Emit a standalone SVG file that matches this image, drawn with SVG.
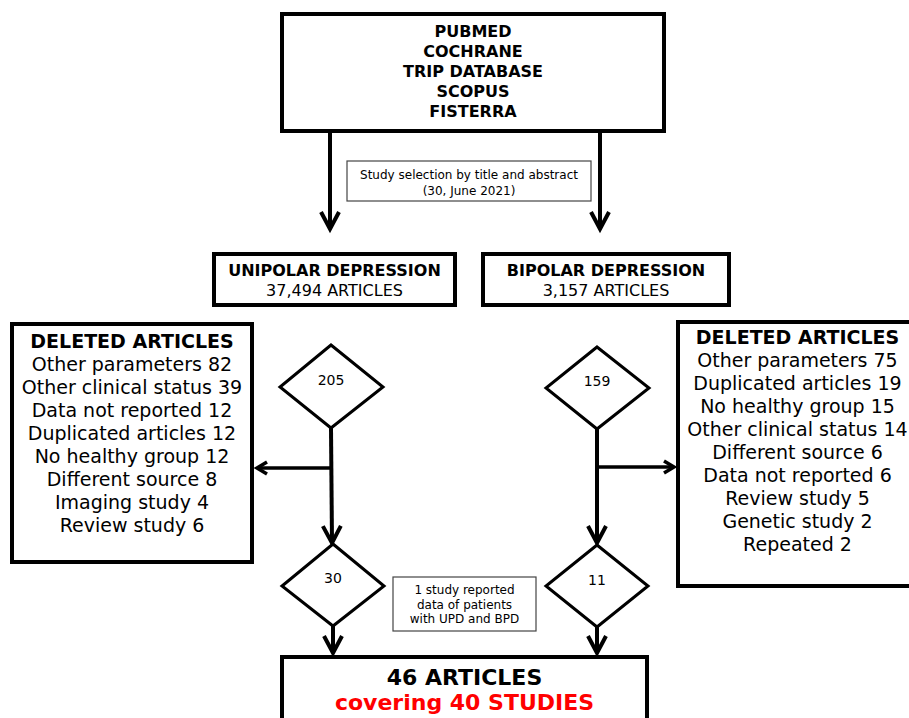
<svg xmlns="http://www.w3.org/2000/svg" width="909" height="718" viewBox="0 0 909 718">
<defs>
<style>
text{font-family:"DejaVu Sans","Verdana",sans-serif;fill:#000;text-anchor:middle}
.b{font-weight:bold}
.box{fill:#fff;stroke:#000;stroke-width:4}
.note{fill:#fff;stroke:#444;stroke-width:1.2}
.dia{fill:#fff;stroke:#000;stroke-width:3}
.con{fill:none;stroke:#000;stroke-width:4}
.conh{fill:none;stroke:#000;stroke-width:3.5}
.f16{font-size:16px}
.f19{font-size:19px}
.f12{font-size:12px}
.f14{font-size:14px}
.f22{font-size:22px}
.red{fill:#ff0000}
</style>
<marker id="big" markerUnits="userSpaceOnUse" orient="auto" refX="0" refY="0" markerWidth="40" markerHeight="40" overflow="visible">
<path d="M-17,-9 L0,0 L-17,9" fill="none" stroke="#000" stroke-width="4"/>
</marker>
<marker id="small" markerUnits="userSpaceOnUse" orient="auto" refX="0" refY="0" markerWidth="30" markerHeight="30" overflow="visible">
<path d="M-10,-6 L0,0 L-10,6" fill="none" stroke="#000" stroke-width="3.5"/>
</marker>
</defs>

<g id="connectors">
<line class="con" x1="330" y1="133" x2="330" y2="229" marker-end="url(#big)"/>
<line class="con" x1="600" y1="133" x2="600" y2="229" marker-end="url(#big)"/>
<line class="con" x1="331" y1="428" x2="332" y2="543" marker-end="url(#big)"/>
<line class="conh" x1="331" y1="468" x2="257" y2="468" marker-end="url(#small)"/>
<line class="con" x1="597" y1="429" x2="597" y2="543" marker-end="url(#big)"/>
<line class="conh" x1="597" y1="467" x2="674" y2="467" marker-end="url(#small)"/>
<line class="con" x1="333" y1="626" x2="333" y2="653" marker-end="url(#big)"/>
<line class="con" x1="597" y1="627" x2="597" y2="653" marker-end="url(#big)"/>
</g>

<g id="sources">
<rect class="box" x="282" y="14" width="382" height="117"/>
<text class="b f16" x="473" y="37">PUBMED</text>
<text class="b f16" x="473" y="57">COCHRANE</text>
<text class="b f16" x="473" y="77">TRIP DATABASE</text>
<text class="b f16" x="473" y="97">SCOPUS</text>
<text class="b f16" x="473" y="117">FISTERRA</text>
</g>

<g id="selection-note">
<rect class="note" x="347" y="161" width="244" height="40"/>
<text class="f12" x="469" y="179">Study selection by title and abstract</text>
<text class="f12" x="469" y="195">(30, June 2021)</text>
</g>

<g id="unipolar">
<rect class="box" x="214" y="254" width="241" height="51"/>
<text class="b f16" x="334.5" y="276">UNIPOLAR DEPRESSION</text>
<text class="f16" x="334.5" y="296">37,494 ARTICLES</text>
</g>

<g id="bipolar">
<rect class="box" x="483" y="254" width="246" height="51"/>
<text class="b f16" x="606" y="276">BIPOLAR DEPRESSION</text>
<text class="f16" x="606" y="296">3,157 ARTICLES</text>
</g>

<g id="deleted-unipolar">
<rect class="box" x="12" y="324" width="240" height="238"/>
<text class="b f19" x="132" y="348">DELETED ARTICLES</text>
<text class="f19" x="132" y="371">Other parameters 82</text>
<text class="f19" x="132" y="394">Other clinical status 39</text>
<text class="f19" x="132" y="417">Data not reported 12</text>
<text class="f19" x="132" y="440">Duplicated articles 12</text>
<text class="f19" x="132" y="463">No healthy group 12</text>
<text class="f19" x="132" y="486">Different source 8</text>
<text class="f19" x="132" y="509">Imaging study 4</text>
<text class="f19" x="132" y="532">Review study 6</text>
</g>

<g id="deleted-bipolar">
<rect class="box" x="678" y="322" width="242" height="264"/>
<text class="b f19" x="797.5" y="344">DELETED ARTICLES</text>
<text class="f19" x="797.5" y="367">Other parameters 75</text>
<text class="f19" x="797.5" y="390">Duplicated articles 19</text>
<text class="f19" x="797.5" y="413">No healthy group 15</text>
<text class="f19" x="797.5" y="436">Other clinical status 14</text>
<text class="f19" x="797.5" y="459">Different source 6</text>
<text class="f19" x="797.5" y="482">Data not reported 6</text>
<text class="f19" x="797.5" y="505">Review study 5</text>
<text class="f19" x="797.5" y="528">Genetic study 2</text>
<text class="f19" x="797.5" y="551">Repeated 2</text>
</g>

<g id="d205">
<polygon class="dia" points="331,345 383,387 331,428 280,387"/>
<text class="f14" x="331" y="385">205</text>
</g>

<g id="d159">
<polygon class="dia" points="597,347 649,388 597,429 546,388"/>
<text class="f14" x="597" y="386">159</text>
</g>

<g id="d30">
<polygon class="dia" points="333,544 384,586 333,626 282,586"/>
<text class="f14" x="333" y="583">30</text>
</g>

<g id="d11">
<polygon class="dia" points="597,545 648,586 597,627 546,586"/>
<text class="f14" x="597" y="585">11</text>
</g>

<g id="overlap-note">
<rect class="note" x="393" y="577" width="143" height="54"/>
<text class="f12" x="464.5" y="594">1 study reported</text>
<text class="f12" x="464.5" y="608.5">data of patients</text>
<text class="f12" x="464.5" y="623">with UPD and BPD</text>
</g>

<g id="result">
<rect class="box" x="282" y="657" width="365" height="80"/>
<text class="b f22" x="464.5" y="685">46 ARTICLES</text>
<text class="b f22 red" x="464.5" y="710">covering 40 STUDIES</text>
</g>
</svg>
